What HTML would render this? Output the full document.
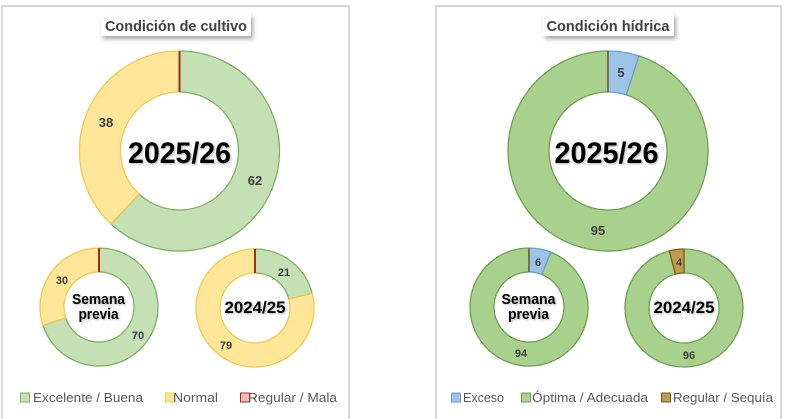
<!DOCTYPE html>
<html><head><meta charset="utf-8"><style>
html,body{margin:0;padding:0;background:#fff;}
svg{display:block;}
text{font-family:"Liberation Sans",sans-serif;}
</style></head><body>
<svg width="786" height="419" viewBox="0 0 786 419" xmlns="http://www.w3.org/2000/svg">
<defs>
<filter id="sh" x="-10%" y="-30%" width="130%" height="180%">
<feDropShadow dx="2" dy="3" stdDeviation="2" flood-color="#000" flood-opacity="0.35"/>
</filter>
<filter id="ts" x="-10%" y="-20%" width="130%" height="150%">
<feDropShadow dx="1" dy="1" stdDeviation="1" flood-color="#000" flood-opacity="0.3"/>
</filter>
</defs>
<rect width="786" height="419" fill="#fff"/>
<!-- panels -->
<path d="M2,430 L2,6 L349,6 L349,430" fill="none" stroke="#bfbfbf" stroke-width="1.2"/>
<path d="M436,430 L436,6 L781,6 L781,430" fill="none" stroke="#bfbfbf" stroke-width="1.2"/>

<!-- titles -->
<rect x="101" y="14" width="150" height="22" fill="#fff" filter="url(#sh)"/>
<text x="176" y="31" font-size="15" font-weight="bold" fill="#404040" text-anchor="middle" textLength="142" lengthAdjust="spacingAndGlyphs">Condición de cultivo</text>
<rect x="543" y="14" width="131" height="22" fill="#fff" filter="url(#sh)"/>
<text x="608" y="31" font-size="15" font-weight="bold" fill="#404040" text-anchor="middle" textLength="123" lengthAdjust="spacingAndGlyphs">Condición hídrica</text>

<!-- LEFT big -->
<g stroke-width="1.3" stroke-linejoin="round">
<path d="M179.5,51 A100,100 0 1 1 111.05,223.9 L139.11,194.01 A59,59 0 1 0 179.5,92 Z" fill="#c5e0b4" stroke="#82b062"/>
<path d="M111.05,223.9 A100,100 0 0 1 179.5,51 L179.5,92 A59,59 0 0 0 139.11,194.01 Z" fill="#ffe699" stroke="#f2c94c"/>
<line x1="179.5" y1="51" x2="179.5" y2="92" stroke="#a0300f" stroke-width="2"/>
<!-- LEFT semana previa -->
<path d="M99,248 A59,59 0 1 1 42.89,325.23 L65.71,317.82 A35,35 0 1 0 99,272 Z" fill="#c5e0b4" stroke="#82b062"/>
<path d="M42.89,325.23 A59,59 0 0 1 99,248 L99,272 A35,35 0 0 0 65.71,317.82 Z" fill="#ffe699" stroke="#f2c94c"/>
<line x1="99" y1="248" x2="99" y2="272" stroke="#a0300f" stroke-width="2"/>
<!-- LEFT 2024/25 -->
<path d="M255,249 A59,59 0 0 1 312.15,293.33 L288.90,299.30 A35,35 0 0 0 255,273 Z" fill="#c5e0b4" stroke="#82b062"/>
<path d="M312.15,293.33 A59,59 0 1 1 255,249 L255,273 A35,35 0 1 0 288.90,299.30 Z" fill="#ffe699" stroke="#f2c94c"/>
<line x1="255" y1="249" x2="255" y2="273" stroke="#a0300f" stroke-width="2"/>

<!-- RIGHT big -->
<path d="M638.90,55.89 A100,100 0 1 1 608,51 L608,92 A59,59 0 1 0 626.23,94.89 Z" fill="#a9d18e" stroke="#6f9f52"/>
<path d="M608,51 A100,100 0 0 1 638.90,55.89 L626.23,94.89 A59,59 0 0 0 608,92 Z" fill="#9dc3e6" stroke="#6a9fcf"/>
<line x1="608" y1="51" x2="608" y2="92" stroke="#6b5a2a" stroke-width="1.5"/>
<!-- RIGHT semana previa -->
<path d="M550.72,252.14 A59,59 0 1 1 529,248 L529,272 A35,35 0 1 0 541.88,274.46 Z" fill="#a9d18e" stroke="#6f9f52"/>
<path d="M529,248 A59,59 0 0 1 550.72,252.14 L541.88,274.46 A35,35 0 0 0 529,272 Z" fill="#9dc3e6" stroke="#6a9fcf"/>
<line x1="529" y1="248" x2="529" y2="272" stroke="#6b5a2a" stroke-width="1.5"/>
<!-- RIGHT 2024/25 -->
<path d="M684,249 A59,59 0 1 1 669.33,250.85 L675.30,274.10 A35,35 0 1 0 684,273 Z" fill="#a9d18e" stroke="#6f9f52"/>
<path d="M669.33,250.85 A59,59 0 0 1 684,249 L684,273 A35,35 0 0 0 675.30,274.10 Z" fill="#bf9b52" stroke="#7a5c1c"/>
</g>

<!-- value labels -->
<g font-weight="bold" fill="#404040" text-anchor="middle">
<text x="255" y="185" font-size="13">62</text>
<text x="106" y="127" font-size="13">38</text>
<text x="621" y="77" font-size="13">5</text>
<text x="598" y="235" font-size="13">95</text>
<text x="62" y="284" font-size="11">30</text>
<text x="138" y="339" font-size="11">70</text>
<text x="284" y="276" font-size="11">21</text>
<text x="226" y="349" font-size="11">79</text>
<text x="538" y="266" font-size="11">6</text>
<text x="521" y="357" font-size="11">94</text>
<text x="679" y="266" font-size="11">4</text>
<text x="689" y="359" font-size="11">96</text>
</g>

<!-- center labels -->
<g font-weight="bold" fill="#000" text-anchor="middle" filter="url(#ts)">
<text x="179.5" y="163" font-size="30" textLength="103" lengthAdjust="spacingAndGlyphs">2025/26</text>
<text x="606.5" y="163" font-size="30" textLength="104" lengthAdjust="spacingAndGlyphs">2025/26</text>
<text x="98.5" y="304" font-size="15" textLength="53" lengthAdjust="spacingAndGlyphs">Semana</text>
<text x="98.5" y="319" font-size="15" textLength="40" lengthAdjust="spacingAndGlyphs">previa</text>
<text x="255" y="313" font-size="17" textLength="61" lengthAdjust="spacingAndGlyphs">2024/25</text>
<text x="528.5" y="304" font-size="15" textLength="54" lengthAdjust="spacingAndGlyphs">Semana</text>
<text x="528.5" y="319" font-size="15" textLength="41" lengthAdjust="spacingAndGlyphs">previa</text>
<text x="684" y="313" font-size="17" textLength="61" lengthAdjust="spacingAndGlyphs">2024/25</text>
</g>

<!-- legends -->
<g font-size="13" fill="#595959">
<rect x="20.5" y="393" width="9" height="9" fill="#c5e0b4" stroke="#82b062"/>
<text x="33" y="402" textLength="110" lengthAdjust="spacingAndGlyphs">Excelente / Buena</text>
<rect x="165.5" y="393" width="9" height="9" fill="#ffe699" stroke="#f2c94c"/>
<text x="173" y="402" textLength="45" lengthAdjust="spacingAndGlyphs">Normal</text>
<rect x="240.5" y="393" width="9" height="9" fill="#f4b8b8" stroke="#a0300f"/>
<text x="248" y="402" textLength="89" lengthAdjust="spacingAndGlyphs">Regular / Mala</text>

<rect x="451.5" y="393" width="9" height="9" fill="#9dc3e6" stroke="#6a9fcf"/>
<text x="463" y="402" textLength="41" lengthAdjust="spacingAndGlyphs">Exceso</text>
<rect x="521.5" y="393" width="9" height="9" fill="#a9d18e" stroke="#6f9f52"/>
<text x="532" y="402" textLength="116" lengthAdjust="spacingAndGlyphs">Óptima / Adecuada</text>
<rect x="661.5" y="393" width="9" height="9" fill="#bf9b52" stroke="#7a5c1c"/>
<text x="673" y="402" textLength="100" lengthAdjust="spacingAndGlyphs">Regular / Sequía</text>
</g>
</svg>
</body></html>
